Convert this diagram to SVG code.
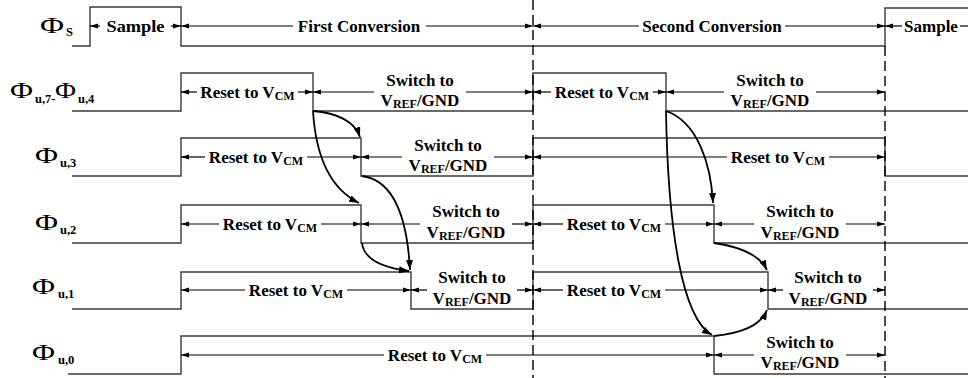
<svg xmlns="http://www.w3.org/2000/svg" width="968" height="378" viewBox="0 0 968 378">
<style>
.wave{fill:none;stroke:#3a3a3a;stroke-width:1.4}
.dash{fill:none;stroke:#000;stroke-width:1.4;stroke-dasharray:10 5}
.dl{fill:none;stroke:#000;stroke-width:1.2;marker-start:url(#ah)}
.dr{fill:none;stroke:#000;stroke-width:1.2;marker-end:url(#ah)}
.dp{fill:none;stroke:#000;stroke-width:1.2}
.cv{fill:none;stroke:#000;stroke-width:1.8;marker-end:url(#ch)}
.t{font-family:"Liberation Serif","Times New Roman",Times,serif;font-weight:bold;font-size:17px;text-anchor:middle;fill:#000}
.s{font-size:12px}
.phi{font-family:"Liberation Serif","Times New Roman",Times,serif;font-size:23px;fill:#000}
.ps{font-family:"Liberation Serif","Times New Roman",Times,serif;font-weight:bold;font-size:12.5px;fill:#000}
</style>
<defs>
<marker id="ah" viewBox="0 0 8 6" refX="8" refY="3" markerWidth="8" markerHeight="6" markerUnits="userSpaceOnUse" orient="auto-start-reverse"><path d="M0,0.5 L8,3 L0,5.5 z" fill="#000"/></marker>
<marker id="ch" viewBox="0 0 10 8" refX="10" refY="4" markerWidth="10" markerHeight="8" markerUnits="userSpaceOnUse" orient="auto"><path d="M0,0.5 L10,4 L0,7.5 z" fill="#000"/></marker>
</defs>

<g id="labels">
<g id="label-s"><text class="phi" x="40" y="33" textLength="24" lengthAdjust="spacingAndGlyphs">Φ</text><text class="ps" x="66" y="36" font-size="14">S</text></g>
<g id="label-u74"><text class="phi" x="10" y="98" textLength="23" lengthAdjust="spacingAndGlyphs">Φ</text><text class="ps" x="35" y="103">u,7-</text><text class="phi" x="55" y="98" textLength="21" lengthAdjust="spacingAndGlyphs">Φ</text><text class="ps" x="78" y="103">u,4</text></g>
<g id="label-u3"><text class="phi" x="35" y="163" textLength="23" lengthAdjust="spacingAndGlyphs">Φ</text><text class="ps" x="60" y="167">u,3</text></g>
<g id="label-u2"><text class="phi" x="35" y="230" textLength="23" lengthAdjust="spacingAndGlyphs">Φ</text><text class="ps" x="60" y="234">u,2</text></g>
<g id="label-u1"><text class="phi" x="32" y="294" textLength="23" lengthAdjust="spacingAndGlyphs">Φ</text><text class="ps" x="58" y="298">u,1</text></g>
<g id="label-u0"><text class="phi" x="32" y="360" textLength="23" lengthAdjust="spacingAndGlyphs">Φ</text><text class="ps" x="58" y="364">u,0</text></g>
</g>

<g id="waveforms">
<path id="w-s" class="wave" d="M72,46 H90 V7 H181 V46 H885 V8 H968"/>
<path id="w-u74" class="wave" d="M72,111 H181 V73 H313 V111 H533 V73 H666 V111 H968"/>
<path id="w-u3" class="wave" d="M72,176 H181 V138 H361 V176 H533 V138 H885 V176 H968"/>
<path id="w-u2" class="wave" d="M72,243 H181 V205 H361 V243 H533 V205 H714 V243 H968"/>
<path id="w-u1" class="wave" d="M72,309 H181 V272 H411 V309 H533 V272 H768 V309 H968"/>
<path id="w-u0" class="wave" d="M68,374 H181 V336 H714 V374 H968"/>
</g>

<g id="dashed">
<path class="dash" d="M533,0 V378"/>
<path class="dash" d="M885,46 V378"/>
</g>

<g id="dimensions">
<!-- row S -->
<path class="dl" d="M90,26 H100"/><path class="dr" d="M171,26 H181"/>
<text class="t" x="135.5" y="32" textLength="58" lengthAdjust="spacingAndGlyphs">Sample</text>
<path class="dl" d="M181,26 H293"/><path class="dr" d="M426,26 H533"/>
<text class="t" x="359" y="32">First Conversion</text>
<path class="dl" d="M533,26 H639"/><path class="dr" d="M785,26 H885"/>
<text class="t" x="712" y="32">Second Conversion</text>
<path class="dl" d="M885,26 H902"/><path class="dp" d="M960,26 H968"/>
<text class="t" x="931" y="32">Sample</text>
<!-- row u7-u4 -->
<path class="dl" d="M181,92 H197"/><path class="dr" d="M298,92 H313"/>
<text class="t" x="247.5" y="98">Reset to V<tspan class="s" dy="2">CM</tspan></text>
<path class="dl" d="M313,92 H374"/><path class="dr" d="M466,92 H533"/>
<text class="t" x="420" y="86">Switch to</text>
<text class="t" x="420" y="106">V<tspan class="s" dy="2">REF</tspan><tspan dy="-2">/GND</tspan></text>
<path class="dl" d="M533,92 H551"/><path class="dr" d="M653,92 H666"/>
<text class="t" x="602" y="98">Reset to V<tspan class="s" dy="2">CM</tspan></text>
<path class="dl" d="M666,92 H724"/><path class="dr" d="M816,92 H885"/>
<text class="t" x="770" y="86">Switch to</text>
<text class="t" x="770" y="106">V<tspan class="s" dy="2">REF</tspan><tspan dy="-2">/GND</tspan></text>
<!-- row u3 -->
<path class="dl" d="M181,157 H205"/><path class="dr" d="M307,157 H361"/>
<text class="t" x="256" y="163">Reset to V<tspan class="s" dy="2">CM</tspan></text>
<path class="dl" d="M361,157 H402"/><path class="dr" d="M494,157 H533"/>
<text class="t" x="448" y="151">Switch to</text>
<text class="t" x="448" y="171">V<tspan class="s" dy="2">REF</tspan><tspan dy="-2">/GND</tspan></text>
<path class="dl" d="M533,157 H727"/><path class="dr" d="M829,157 H885"/>
<text class="t" x="778" y="163">Reset to V<tspan class="s" dy="2">CM</tspan></text>
<!-- row u2 -->
<path class="dl" d="M181,224 H219"/><path class="dr" d="M321,224 H361"/>
<text class="t" x="270" y="230">Reset to V<tspan class="s" dy="2">CM</tspan></text>
<path class="dl" d="M361,224 H420"/><path class="dr" d="M512,224 H533"/>
<text class="t" x="466" y="217">Switch to</text>
<text class="t" x="466" y="238">V<tspan class="s" dy="2">REF</tspan><tspan dy="-2">/GND</tspan></text>
<path class="dl" d="M533,224 H563"/><path class="dr" d="M665,224 H714"/>
<text class="t" x="614" y="230">Reset to V<tspan class="s" dy="2">CM</tspan></text>
<path class="dl" d="M714,224 H754"/><path class="dr" d="M846,224 H885"/>
<text class="t" x="800" y="217">Switch to</text>
<text class="t" x="800" y="238">V<tspan class="s" dy="2">REF</tspan><tspan dy="-2">/GND</tspan></text>
<!-- row u1 -->
<path class="dl" d="M181,290 H245"/><path class="dr" d="M347,290 H411"/>
<text class="t" x="296" y="296">Reset to V<tspan class="s" dy="2">CM</tspan></text>
<path class="dl" d="M411,290 H427"/><path class="dr" d="M517,290 H533"/>
<text class="t" x="472" y="283">Switch to</text>
<text class="t" x="472" y="304">V<tspan class="s" dy="2">REF</tspan><tspan dy="-2">/GND</tspan></text>
<path class="dl" d="M533,290 H563"/><path class="dr" d="M665,290 H768"/>
<text class="t" x="614" y="296">Reset to V<tspan class="s" dy="2">CM</tspan></text>
<path class="dl" d="M768,290 H783"/><path class="dr" d="M873,290 H885"/>
<text class="t" x="828" y="283">Switch to</text>
<text class="t" x="828" y="304">V<tspan class="s" dy="2">REF</tspan><tspan dy="-2">/GND</tspan></text>
<!-- row u0 -->
<path class="dl" d="M181,355 H384"/><path class="dr" d="M486,355 H714"/>
<text class="t" x="435" y="361">Reset to V<tspan class="s" dy="2">CM</tspan></text>
<path class="dl" d="M714,355 H754"/><path class="dr" d="M846,355 H885"/>
<text class="t" x="800" y="348">Switch to</text>
<text class="t" x="800" y="368">V<tspan class="s" dy="2">REF</tspan><tspan dy="-2">/GND</tspan></text>
</g>

<g id="connectors">
<path class="cv" d="M313,111 C338,113 355,122 360,137"/>
<path class="cv" d="M313,111 C316,160 333,190 359,203"/>
<path class="cv" d="M362,176 C393,180 407,215 410,270"/>
<path class="cv" d="M362,243 C364,260 385,268 409,271"/>
<path class="cv" d="M666,111 C698,122 711,165 713,203"/>
<path class="cv" d="M666,111 C668,230 682,318 712,335"/>
<path class="cv" d="M714,243 C742,247 760,256 767,270"/>
<path class="cv" d="M714,336 C742,333 760,326 767,310"/>
</g>
</svg>
